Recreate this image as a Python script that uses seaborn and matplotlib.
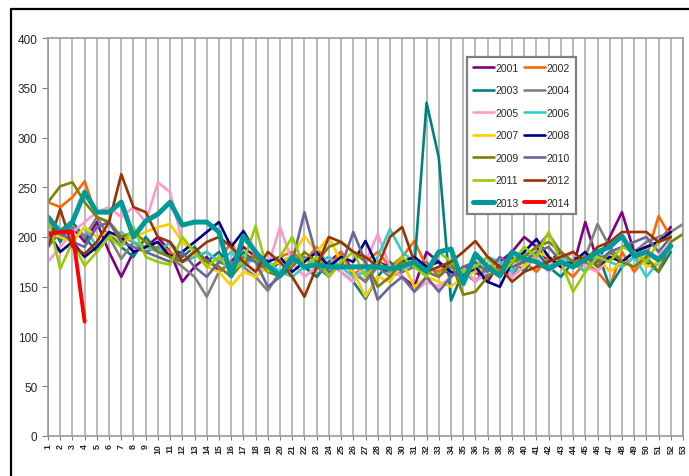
import numpy as np
import pandas as pd
import matplotlib
matplotlib.use("Agg")
import matplotlib.pyplot as plt
import seaborn as sns
from matplotlib.lines import Line2D

# weekly values per year
y2001 = [205, 200, 210, 195, 215, 185, 160, 185, 190, 200, 185, 155, 170, 180, 165, 175, 190, 180, 170, 175, 180, 170, 160, 175, 185, 165,
         155, 175, 170, 160, 150, 185, 175, 160, 170, 165, 155, 175, 185, 200, 190, 175, 185, 170, 215, 175, 200, 225, 185, 190, 195, 210]
y2002 = [235, 230, 240, 256, 220, 215, 200, 195, 190, 195, 185, 175, 180, 185, 175, 195, 170, 185, 165, 180, 185, 175, 190, 170, 185, 160,
         175, 185, 170, 180, 196, 170, 165, 175, 160, 180, 170, 165, 185, 175, 165, 180, 170, 160, 175, 165, 150, 185, 165, 180, 221, 200]
y2003 = [220, 195, 215, 200, 185, 205, 190, 180, 200, 185, 195, 180, 190, 175, 185, 170, 185, 175, 165, 175, 180, 170, 160, 175, 165, 155,
         138, 160, 175, 165, 170, 335, 280, 136, 165, 175, 160, 170, 180, 165, 185, 170, 160, 175, 165, 185, 150, 170, 180, 175, 165, 185]
y2004 = [190, 205, 210, 200, 220, 200, 178, 195, 185, 190, 180, 170, 160, 140, 165, 175, 170, 160, 146, 165, 175, 180, 170, 160, 175, 165,
         155, 170, 160, 165, 170, 175, 160, 170, 165, 155, 170, 175, 160, 180, 190, 203, 185, 175, 180, 213, 190, 175, 185, 195, 200, 205, 213]
y2005 = [175, 190, 205, 215, 225, 230, 220, 230, 215, 255, 245, 195, 185, 175, 170, 160, 175, 165, 170, 210, 175, 160, 170, 180, 165, 155,
         175, 203, 170, 160, 145, 155, 150, 160, 170, 155, 165, 175, 160, 170, 180, 165, 175, 185, 170, 165, 180, 175, 170, 185, 180, 195]
y2006 = [215, 205, 195, 210, 190, 200, 205, 195, 190, 185, 195, 175, 180, 185, 175, 185, 170, 180, 175, 165, 160, 170, 175, 180, 170, 160,
         165, 180, 208, 185, 175, 165, 170, 175, 160, 170, 180, 175, 165, 185, 175, 170, 180, 175, 165, 185, 175, 170, 180, 160, 175, 190]
y2007 = [205, 200, 195, 210, 200, 205, 195, 200, 205, 210, 213, 195, 185, 170, 165, 151, 165, 160, 170, 175, 180, 201, 185, 200, 175, 165,
         140, 160, 155, 175, 150, 160, 155, 150, 160, 165, 170, 160, 175, 170, 185, 180, 175, 170, 185, 180, 165, 175, 185, 170, 175, 190]
y2008 = [205, 185, 195, 180, 190, 205, 200, 185, 190, 195, 180, 185, 195, 205, 215, 190, 206, 185, 175, 180, 165, 175, 185, 170, 180, 175,
         196, 170, 165, 175, 180, 170, 175, 165, 160, 170, 155, 150, 175, 185, 198, 180, 170, 175, 185, 170, 180, 175, 185, 190, 195, 205]
y2009 = [235, 251, 255, 235, 220, 215, 200, 205, 195, 185, 180, 175, 185, 175, 170, 160, 175, 180, 165, 160, 170, 185, 175, 190, 195, 185,
         175, 150, 160, 175, 170, 165, 160, 175, 142, 145, 160, 170, 175, 180, 190, 195, 185, 175, 180, 170, 185, 175, 170, 180, 165, 195, 203]
y2010 = [200, 205, 195, 190, 210, 215, 195, 190, 185, 180, 175, 185, 170, 160, 175, 170, 180, 175, 150, 160, 175, 225, 180, 165, 170, 205,
         175, 137, 150, 160, 145, 160, 145, 160, 170, 175, 165, 180, 170, 175, 185, 190, 175, 170, 180, 175, 185, 190, 195, 200, 185, 200]
y2011 = [220, 168, 195, 171, 185, 200, 190, 210, 180, 175, 172, 200, 185, 170, 180, 165, 175, 211, 165, 180, 200, 170, 180, 160, 175, 185,
         160, 175, 165, 180, 170, 160, 185, 175, 165, 170, 180, 160, 175, 190, 180, 205, 175, 145, 165, 180, 175, 190, 185, 175, 195, 200]
y2012 = [190, 228, 190, 183, 195, 215, 263, 230, 225, 200, 195, 175, 185, 195, 200, 190, 175, 165, 185, 175, 160, 140, 170, 200, 195, 185,
         180, 170, 200, 210, 175, 165, 170, 175, 185, 196, 180, 170, 155, 165, 170, 175, 180, 185, 175, 190, 195, 205, 205, 205, 195, 200]
y2013 = [220, 205, 215, 245, 225, 225, 235, 200, 216, 223, 235, 212, 215, 215, 205, 161, 201, 185, 171, 161, 180, 170, 172, 170, 170, 170,
         170, 170, 168, 170, 175, 165, 185, 188, 153, 183, 170, 161, 185, 178, 175, 168, 175, 170, 177, 185, 190, 201, 181, 185, 177, 191]
y2014 = [203, 205, 205, 115]

years = ["2001", "2002", "2003", "2004", "2005", "2006", "2007",
         "2008", "2009", "2010", "2011", "2012", "2013", "2014"]
series = [y2001, y2002, y2003, y2004, y2005, y2006, y2007,
          y2008, y2009, y2010, y2011, y2012, y2013, y2014]
colors = ["#800080", "#FF6600", "#008080", "#808080", "#FF99CC", "#33CCCC", "#FFCC00",
          "#000080", "#808000", "#666699", "#99CC00", "#993300", "#009999", "#FF0000"]
widths = [1.9] * 12 + [3.6, 2.8]

week_labels = [str(w) for w in range(1, 54)]

rows = []
for yr, vals in zip(years, series):
    for i, v in enumerate(vals):
        rows.append({"year": yr, "week": i + 1, "value": v})
df = pd.DataFrame(rows)

sns.set_style("white")
plt.rcParams["font.family"] = ["Liberation Sans", "DejaVu Sans"]

fig = plt.figure(figsize=(6.89, 4.77), dpi=100)
ax = fig.add_axes([48 / 689, 40 / 477, 635 / 689, 398 / 477])

# vertical week gridlines
for w in range(1, 54):
    ax.axvline(w, color="#a6a6a6", lw=1.1, zorder=0)

for yr, col, lw in zip(years, colors, widths):
    sns.lineplot(data=df[df["year"] == yr], x="week", y="value", color=col,
                 lw=lw, label=yr, ax=ax, estimator=None, sort=False)

ax.set_xlim(1, 53)
ax.set_ylim(0, 400)
ax.set_xticks(range(1, 54))
ax.set_xticklabels(week_labels, rotation=90, fontsize=6.3, fontweight="bold")
ax.set_yticks(range(0, 401, 50))
ax.tick_params(axis="y", labelsize=8.5, length=4, color="#808080", direction="out", left=True)
ax.tick_params(axis="x", length=3, color="#808080", direction="out", bottom=True, pad=2)
ax.set_xlabel("")
ax.set_ylabel("")
for s in ax.spines.values():
    s.set_color("#999999")
    s.set_linewidth(1.2)

# legend row-wise in two columns
handles, labels = ax.get_legend_handles_labels()
order = list(range(0, 14, 2)) + list(range(1, 14, 2))
leg = ax.legend([handles[i] for i in order], [labels[i] for i in order],
                ncol=2, loc="upper left", bbox_to_anchor=(0.652, 0.966),
                fontsize=7.5, labelspacing=1.2, handlelength=2.0,
                handletextpad=0.15, columnspacing=0.5, borderpad=0.6,
                fancybox=False, framealpha=1, edgecolor="#808080")
leg.get_frame().set_linewidth(1.6)

# outer black border (top and left)
fig.add_artist(Line2D([11 / 689, 11 / 689], [0, 1 - 10 / 477], color="black", lw=1.6))
fig.add_artist(Line2D([11 / 689, 1], [1 - 10 / 477, 1 - 10 / 477], color="black", lw=1.6))

fig.savefig("out.png", dpi=100)
